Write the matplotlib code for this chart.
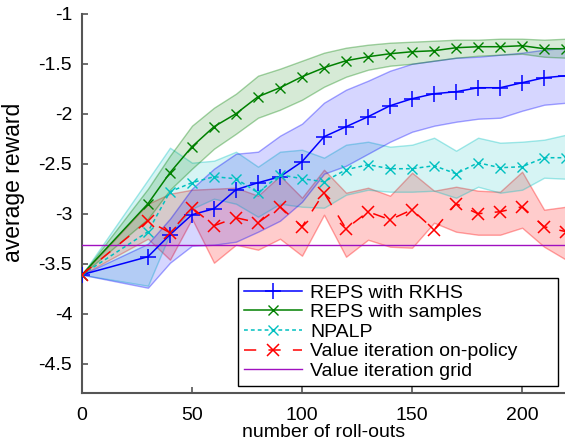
import matplotlib
matplotlib.use("Agg")
import matplotlib.pyplot as plt
from matplotlib.colors import to_rgba

plt.rcParams['font.family'] = ['Liberation Sans', 'DejaVu Sans']
plt.rcParams['axes.unicode_minus'] = False

# === Data ===
rollouts = [0, 30, 40, 50, 60, 70, 80, 90, 100, 110, 120, 130, 140, 150, 160, 170, 180, 190, 200, 210, 220]

rkhs_mean = [-3.61, -3.43, -3.21, -3.01, -2.95, -2.76, -2.69, -2.63, -2.48, -2.23, -2.13,
             -2.03, -1.92, -1.85, -1.80, -1.78, -1.74, -1.74, -1.69, -1.64, -1.62]
rkhs_hi = [-3.61, -3.30, -3.05, -2.75, -2.55, -2.40, -2.38, -2.22, -2.10, -1.89, -1.76,
           -1.67, -1.57, -1.50, -1.47, -1.44, -1.43, -1.41, -1.39, -1.36, -1.34]
rkhs_lo = [-3.61, -3.74, -3.49, -3.32, -3.31, -3.28, -3.18, -3.07, -2.88, -2.60, -2.52,
           -2.40, -2.28, -2.18, -2.12, -2.08, -2.05, -2.04, -1.97, -1.91, -1.89]

samp_mean = [-3.61, -2.90, -2.59, -2.33, -2.13, -2.00, -1.83, -1.74, -1.63, -1.54, -1.47,
             -1.43, -1.40, -1.38, -1.37, -1.34, -1.33, -1.33, -1.32, -1.35, -1.35]
samp_hi = [-3.61, -2.75, -2.42, -2.12, -1.94, -1.80, -1.62, -1.55, -1.47, -1.39, -1.34,
           -1.31, -1.29, -1.28, -1.27, -1.26, -1.26, -1.25, -1.25, -1.26, -1.25]
samp_lo = [-3.61, -3.05, -2.76, -2.55, -2.35, -2.20, -2.04, -1.96, -1.86, -1.73, -1.63,
           -1.56, -1.52, -1.50, -1.47, -1.44, -1.42, -1.41, -1.40, -1.43, -1.44]

npalp_mean = [-3.61, -3.18, -2.78, -2.69, -2.63, -2.65, -2.79, -2.61, -2.65, -2.68, -2.56,
              -2.51, -2.55, -2.55, -2.52, -2.60, -2.49, -2.54, -2.53, -2.44, -2.44]
npalp_hi = [-3.61, -2.66, -2.34, -2.49, -2.47, -2.38, -2.53, -2.38, -2.36, -2.44, -2.31,
            -2.28, -2.33, -2.31, -2.24, -2.37, -2.24, -2.29, -2.28, -2.26, -2.21]
npalp_lo = [-3.61, -3.72, -3.20, -2.95, -2.85, -2.90, -3.03, -2.90, -2.93, -2.94, -2.81,
            -2.76, -2.78, -2.78, -2.77, -2.84, -2.73, -2.79, -2.76, -2.64, -2.65]

vi_mean = [-3.61, -3.07, -3.19, -2.94, -3.12, -3.04, -3.09, -2.93, -3.13, -2.79, -3.15,
           -2.98, -3.06, -2.96, -3.16, -2.90, -3.00, -2.98, -2.93, -3.13, -3.18]
vi_hi = [-3.61, -2.90, -2.80, -2.76, -2.75, -2.74, -2.82, -2.62, -2.84, -2.56, -2.79,
         -2.74, -2.82, -2.59, -2.77, -2.73, -2.77, -2.78, -2.58, -2.96, -2.93]
vi_lo = [-3.61, -3.25, -3.46, -3.05, -3.49, -3.31, -3.36, -3.25, -3.42, -3.01, -3.43,
         -3.26, -3.33, -3.34, -3.09, -3.18, -3.21, -3.21, -3.14, -3.33, -3.46]

vi_grid = -3.31

fig = plt.figure(figsize=(5.65, 4.44), dpi=100)
ax = fig.add_axes([0.145, 0.1155, 0.857, 0.8536])


def band(lo, hi, color, a=0.18):
    ax.fill_between(rollouts, lo, hi, facecolor=to_rgba(color, a),
                    edgecolor=to_rgba(color, 0.35), linewidth=1.0)


band(vi_lo, vi_hi, '#ff0000', 0.2)
band(npalp_lo, npalp_hi, '#00c0c0', 0.16)
band(rkhs_lo, rkhs_hi, '#0000ff', 0.16)
band(samp_lo, samp_hi, '#008000', 0.16)

ax.axhline(vi_grid, color='#a010c0', lw=1.0, label='Value iteration grid', zorder=3)

ax.plot(rollouts, rkhs_mean, color='#0000ff', lw=1.1, marker='+', ms=11, mew=1.1,
        label='REPS with RKHS', zorder=5)
ax.plot(rollouts, samp_mean, color='#008000', lw=1.1, marker='x', ms=7, mew=1.0,
        label='REPS with samples', zorder=5)
ax.plot(rollouts, npalp_mean, color='#00c0c0', lw=1.1, marker='x', ms=7, mew=1.0,
        dashes=(2.5, 2), label='NPALP', zorder=5)
ax.plot(rollouts, vi_mean, color='#ff0000', lw=1.1, marker='x', ms=9, mew=1.1,
        dashes=(8, 8), label='Value iteration on-policy', zorder=5)

ax.set_xlim(0, 220)
ax.set_ylim(-4.79, -1)
ax.set_xticks([0, 50, 100, 150, 200])
ax.set_yticks([-1, -1.5, -2, -2.5, -3, -3.5, -4, -4.5])
ax.set_yticklabels(['-1', '-1.5', '-2', '-2.5', '-3', '-3.5', '-4', '-4.5'])
ax.tick_params(direction='in', length=4, width=1.2, color='#555555', labelsize=14)
ax.tick_params(axis='y', pad=7)
ax.tick_params(axis='x', pad=10)
for s in ['top', 'right']:
    ax.spines[s].set_visible(False)
for s in ['left', 'bottom']:
    ax.spines[s].set_color('#555555')
    ax.spines[s].set_linewidth(1.5)

ax.set_xlabel('number of roll-outs', fontsize=14, labelpad=0)
ax.set_ylabel('average reward', fontsize=16.5)
ax.yaxis.set_label_coords(-0.118, 0.556)

h, l = ax.get_legend_handles_labels()
order = [1, 2, 3, 4, 0]
leg = ax.legend([h[i] for i in order], [l[i] for i in order], loc='lower left',
                bbox_to_anchor=(0.323, 0.0185, 0.661, 0.336), mode='expand',
                borderaxespad=0, fontsize=14,
                fancybox=False, framealpha=1, edgecolor='black', numpoints=1,
                handlelength=3.0, handletextpad=0.4, labelspacing=0.1, borderpad=0.3)
leg.get_frame().set_linewidth(1.0)

plt.savefig("out.png", dpi=100)
